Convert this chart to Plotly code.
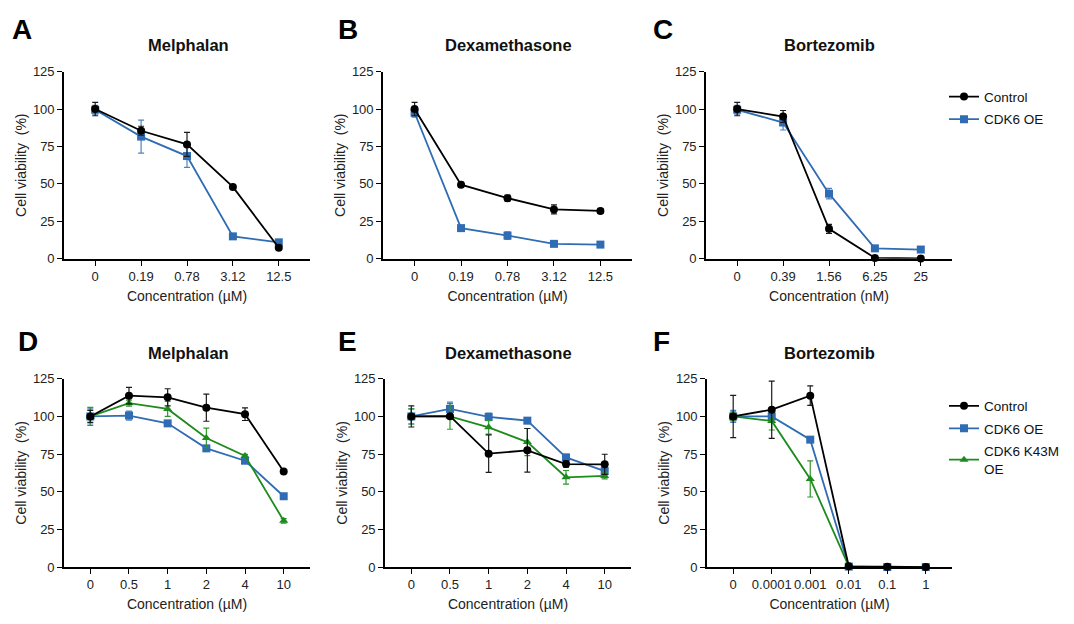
import plotly.graph_objects as go

# page body has an 8 px margin; size the figure so it fits the window
OFF = 8
W, H = 1074 - 2 * OFF, 624 - 2 * OFF

# ---------------- data ----------------
conc_ABC_uM = ["0", "0.19", "0.78", "3.12", "12.5"]
conc_C_nM = ["0", "0.39", "1.56", "6.25", "25"]
conc_DE = ["0", "0.5", "1", "2", "4", "10"]
conc_F = ["0", "0.0001", "0.001", "0.01", "0.1", "1"]

# A  Melphalan
a_ctrl = [100, 85.5, 76.4, 48, 7.4]
a_ctrl_err = [4.5, 3, 8, 1, 1]
a_oe = [99.5, 81.6, 68.6, 15, 11]
a_oe_err = [3, 11, 7.5, 1.2, 1]
# B  Dexamethasone
b_ctrl = [100, 49.5, 40.5, 33, 32]
b_ctrl_err = [4.5, 1.5, 2, 3, 1.5]
b_oe = [97.5, 20.5, 15.5, 10, 9.5]
b_oe_err = [3, 1.5, 2.5, 1, 1]
# C  Bortezomib
c_ctrl = [100, 95, 20, 0.6, 0.3]
c_ctrl_err = [4.5, 4, 3, 0.5, 0.5]
c_oe = [99.5, 91, 43.5, 7, 6.2]
c_oe_err = [3, 5, 3.5, 1, 1]
# D  Melphalan
d_ctrl = [100, 113.8, 112.7, 105.8, 101.5, 63.5]
d_ctrl_err = [4, 5.5, 5.7, 9, 4.2, 1]
d_oe = [100, 100.6, 95.4, 78.8, 70.6, 47]
d_oe_err = [5, 3, 1, 1.2, 1.5, 1]
d_k43m = [100, 108.8, 105, 85.7, 73.8, 30.7]
d_k43m_err = [6, 2, 5, 6.5, 1, 1.5]
# E  Dexamethasone
e_ctrl = [100, 100.2, 75.3, 77.5, 68.4, 68.2]
e_ctrl_err = [7, 1, 12.5, 14.5, 2, 6.7]
e_oe = [100, 105, 99.7, 97.2, 72.8, 63.7]
e_oe_err = [5, 4.5, 2.5, 1.5, 2, 2.5]
e_k43m = [100, 100, 92.8, 83, 59.6, 60.5]
e_k43m_err = [5, 8.5, 4.5, 9, 4.5, 2]
# F  Bortezomib
f_ctrl = [100, 104.5, 113.8, 0.5, 0.2, 0]
f_ctrl_err = [14, 19, 6.5, 0.5, 0.5, 0.5]
f_oe = [100, 100, 84.6, 0.3, 0, 0]
f_oe_err = [4, 2, 1, 0.3, 0.3, 0.3]
f_k43m = [100, 97, 58.5, 0.5, 0, 0]
f_k43m_err = [3, 6, 12, 0.3, 0.3, 0.3]

titles = ["Melphalan", "Dexamethasone", "Bortezomib",
          "Melphalan", "Dexamethasone", "Bortezomib"]
letters = ["A", "B", "C", "D", "E", "F"]
x_titles = ["Concentration (µM)", "Concentration (µM)", "Concentration (nM)",
            "Concentration (µM)", "Concentration (µM)", "Concentration (µM)"]
series_names = ["Control", "CDK6 OE", "CDK6 K43M<br>OE"]

BLACK = "#000000"
BLUE = "#2F6CB3"
GREEN = "#1E8B1E"
ERR_COLORS = ["#1a1a1a", "#4F82C0", "#2E962E"]
FONT = "Liberation Sans, Arial, sans-serif"

panels = [
    dict(cats=conc_ABC_uM, series=[(a_ctrl, a_ctrl_err), (a_oe, a_oe_err)]),
    dict(cats=conc_ABC_uM, series=[(b_ctrl, b_ctrl_err), (b_oe, b_oe_err)]),
    dict(cats=conc_C_nM, series=[(c_ctrl, c_ctrl_err), (c_oe, c_oe_err)]),
    dict(cats=conc_DE, series=[(d_ctrl, d_ctrl_err), (d_oe, d_oe_err), (d_k43m, d_k43m_err)]),
    dict(cats=conc_DE, series=[(e_ctrl, e_ctrl_err), (e_oe, e_oe_err), (e_k43m, e_k43m_err)]),
    dict(cats=conc_F, series=[(f_ctrl, f_ctrl_err), (f_oe, f_oe_err), (f_k43m, f_k43m_err)]),
]

# window-pixel layout of plotting areas (left, right, top, bottom)
boxes = [
    (64, 310, 66, 258), (383, 632, 66, 258), (706, 952, 66, 258),
    (64, 310, 381, 574), (385, 631, 381, 574), (707, 952, 381, 574),
]
title_pos = [(188, 39), (508, 39), (829, 39), (188, 355), (508, 355), (829, 355)]
letter_pos = [(10, 23), (336, 23), (651, 23), (16, 343), (336, 343), (651, 343)]


def px(x):
    return (x - OFF) / W


def py(y):
    return 1 - (y - OFF) / H


styles = [
    dict(color=BLACK, symbol="circle", size=8),
    dict(color=BLUE, symbol="square", size=8),
    dict(color=GREEN, symbol="triangle-up", size=8),
]

fig = go.Figure()
layout = dict(
    width=W, height=H, margin=dict(l=0, r=0, t=0, b=0),
    paper_bgcolor="white", plot_bgcolor="white",
    font=dict(family=FONT, color="#111"),
    showlegend=True,
)
annotations = []

for i, (p, box) in enumerate(zip(panels, boxes)):
    n = i + 1
    xa = "x" if n == 1 else f"x{n}"
    ya = "y" if n == 1 else f"y{n}"
    l, r, t, b = box
    ncat = len(p["cats"])
    layout["xaxis" if n == 1 else f"xaxis{n}"] = dict(
        domain=[px(l), px(r)], anchor=ya, type="category",
        range=[-0.68, ncat - 1 + 0.68],
        showline=True, linecolor="black", linewidth=1.6, mirror=False,
        ticks="outside", ticklen=5, tickwidth=1.4, tickcolor="black",
        showgrid=False, zeroline=False,
        tickfont=dict(size=13, color="#222"),
        title=dict(text=x_titles[i], font=dict(size=14, color="#222"), standoff=8),
    )
    layout["yaxis" if n == 1 else f"yaxis{n}"] = dict(
        domain=[py(b), py(t)], anchor=xa,
        range=[0, 125], tickvals=[0, 25, 50, 75, 100, 125],
        showline=True, linecolor="black", linewidth=1.6,
        ticks="outside", ticklen=5, tickwidth=1.4, tickcolor="black",
        showgrid=False, zeroline=False,
        tickfont=dict(size=13, color="#222"),
        title=dict(text="Cell viability\u00a0 (%)", font=dict(size=14, color="#222"), standoff=3),
    )
    legend_id = None
    if i == 2:
        legend_id = "legend"
    elif i == 5:
        legend_id = "legend2"
    # draw the other series first so the control sits on top
    order = list(range(1, len(p["series"]))) + [0]
    for k in order:
        vals, errs = p["series"][k]
        st = styles[k]
        fig.add_trace(go.Scatter(
            x=p["cats"], y=vals, xaxis=xa, yaxis=ya,
            mode="lines+markers", name=series_names[k],
            line=dict(color=st["color"], width=1.8),
            marker=dict(color=st["color"], symbol=st["symbol"], size=st["size"]),
            error_y=dict(type="data", array=errs, visible=True,
                         color=ERR_COLORS[k], thickness=1.2, width=3),
            cliponaxis=False,
            showlegend=legend_id is not None,
            legend=legend_id if legend_id else "legend",
            legendrank=k + 1,
            legendgroup=f"{legend_id}_{k}",
        ))
    tx, ty = title_pos[i]
    annotations.append(dict(
        text=f"<b>{titles[i]}</b>", x=px(tx), y=py(ty), xref="paper", yref="paper",
        showarrow=False, xanchor="center", yanchor="middle",
        font=dict(size=16.5, color="#111", family=FONT)))
    lx, ly = letter_pos[i]
    annotations.append(dict(
        text=f"<b>{letters[i]}</b>", x=px(lx), y=py(ly), xref="paper", yref="paper",
        showarrow=False, xanchor="left", yanchor="middle",
        font=dict(size=28, color="#000", family=FONT)))

layout["annotations"] = annotations
legend_common = dict(
    xanchor="left", yanchor="top", bgcolor="rgba(0,0,0,0)",
    font=dict(size=13.5, color="#111", family=FONT),
    itemwidth=30, tracegroupgap=2, traceorder="grouped",
)
layout["legend"] = dict(x=px(944), y=py(76), **legend_common)
layout["legend2"] = dict(x=px(944), y=py(393), **legend_common)

fig.update_layout(**layout)
fig.write_html("out.html")
